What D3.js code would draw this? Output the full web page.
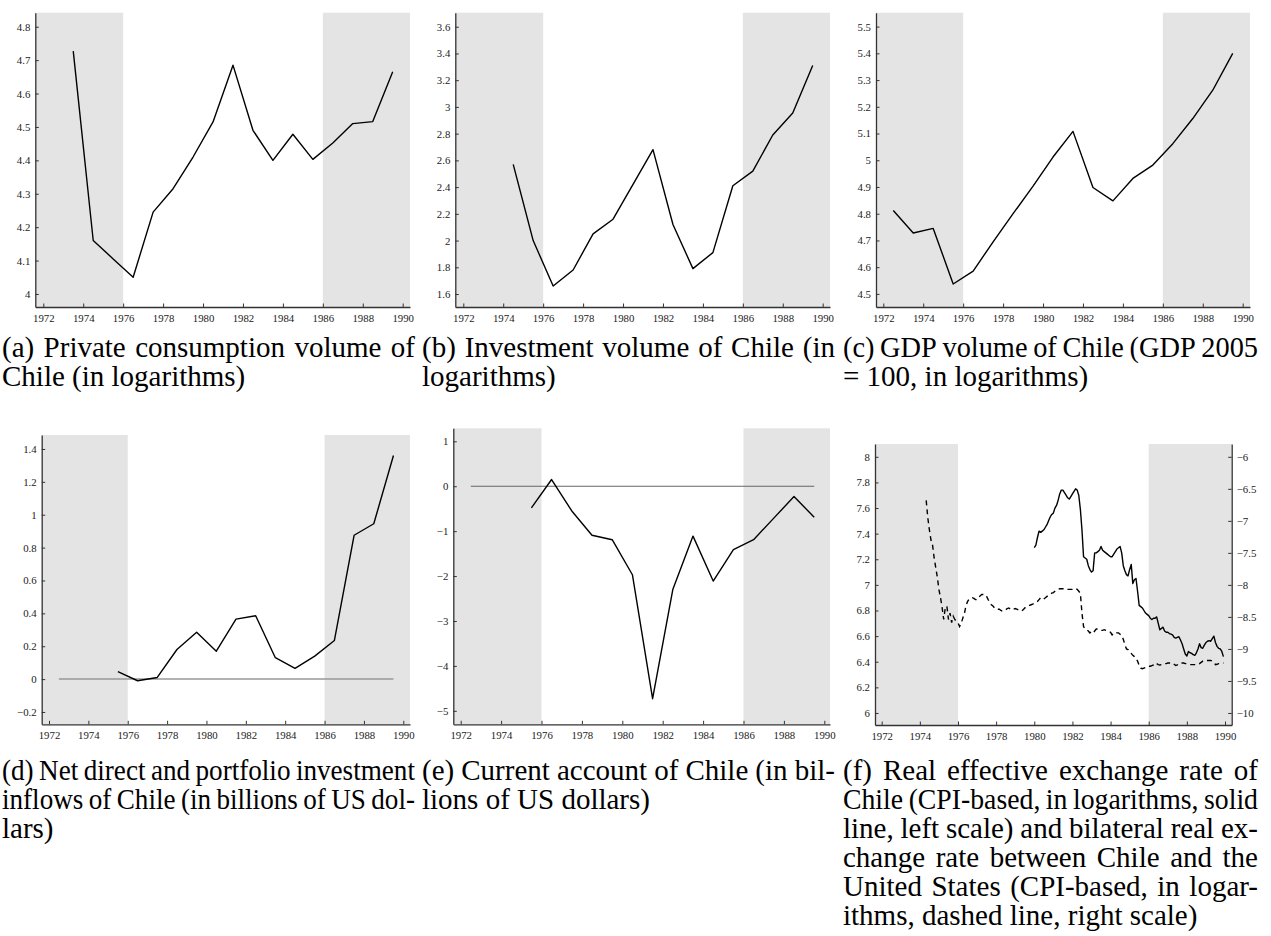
<!DOCTYPE html>
<html><head><meta charset="utf-8">
<script src="https://cdn.jsdelivr.net/npm/d3@7"></script>
<style>
body{margin:0;background:#fff;width:1271px;height:936px;overflow:hidden;position:relative;font-family:"Liberation Serif","Times New Roman",serif;}
svg{position:absolute;left:0;top:0;}
.capline{position:absolute;font-size:29px;line-height:29px;color:#000;display:flex;white-space:pre;transform-origin:0 0;}
.capline span{flex:none;}
.tick text{font-family:"Liberation Serif","Times New Roman",serif;font-size:10.8px;fill:#222;}
</style></head><body>
<svg id="chart" width="1271" height="936"></svg>
<script>
// ---------------- DATA ----------------
const xTickYears = [1972,1974,1976,1978,1980,1982,1984,1986,1988,1990];
const shadedPeriods = [[1960,1976],[1986,2000]];

const consumptionYears = [1973,1974,1975,1976,1977,1978,1979,1980,1981,1982,1983,1984,1985,1986,1987,1988,1989];
const consumptionValues = [4.727,4.160,4.105,4.050,4.245,4.315,4.410,4.515,4.685,4.490,4.400,4.478,4.403,4.452,4.510,4.516,4.665];
const consumptionTicks = [4,4.1,4.2,4.3,4.4,4.5,4.6,4.7,4.8];

const investmentYears = [1974,1975,1976,1977,1978,1979,1980,1981,1982,1983,1984,1985,1986,1987,1988,1989];
const investmentValues = [2.57,2.00,1.66,1.78,2.05,2.16,2.42,2.68,2.12,1.79,1.91,2.41,2.52,2.79,2.955,3.31];
const investmentTicks = [1.6,1.8,2,2.2,2.4,2.6,2.8,3,3.2,3.4,3.6];

const gdpYears = [1972,1973,1974,1975,1976,1977,1978,1979,1980,1981,1982,1983,1984,1985,1986,1987,1988,1989];
const gdpValues = [4.812,4.728,4.745,4.537,4.585,4.695,4.800,4.903,5.012,5.108,4.898,4.848,4.932,4.982,5.062,5.156,5.262,5.400];
const gdpTicks = [4.5,4.6,4.7,4.8,4.9,5,5.1,5.2,5.3,5.4,5.5];

const inflowYears = [1975,1976,1977,1978,1979,1980,1981,1982,1983,1984,1985,1986,1987,1988,1989];
const inflowValues = [0.045,-0.010,0.010,0.180,0.285,0.170,0.365,0.385,0.130,0.065,0.140,0.235,0.875,0.945,1.360];
const inflowTicks = [-0.2,0,0.2,0.4,0.6,0.8,1,1.2,1.4];

const currentAccountYears = [1975,1976,1977,1978,1979,1980,1981,1982,1983,1984,1985,1986,1987,1988,1989];
const currentAccountValues = [-0.48,0.15,-0.55,-1.09,-1.19,-1.97,-4.73,-2.30,-1.11,-2.11,-1.41,-1.19,-0.71,-0.23,-0.69];
const currentAccountTicks = [-5,-4,-3,-2,-1,0,1];

// real effective exchange rate, monthly, Jan 1980 - Dec 1989 (left scale)
const reerStart = 1980;
const reerMonthly = [
 7.29,7.31,7.37,7.42,7.41,7.42,7.43,7.45,7.47,7.50,7.53,7.55,
 7.56,7.60,7.62,7.66,7.71,7.74,7.74,7.72,7.70,7.68,7.67,7.69,
 7.71,7.73,7.75,7.74,7.70,7.59,7.43,7.22,7.21,7.20,7.15,7.12,
 7.10,7.11,7.25,7.25,7.26,7.27,7.30,7.27,7.26,7.25,7.24,7.23,
 7.22,7.22,7.24,7.26,7.28,7.29,7.30,7.25,7.15,7.11,7.08,7.07,
 7.12,7.16,7.01,7.04,7.05,6.95,6.84,6.83,6.82,6.80,6.78,6.77,
 6.76,6.74,6.73,6.74,6.74,6.75,6.70,6.65,6.66,6.67,6.64,6.63,
 6.63,6.62,6.615,6.61,6.59,6.585,6.59,6.595,6.57,6.54,6.50,6.46,
 6.445,6.48,6.47,6.465,6.455,6.45,6.47,6.50,6.54,6.51,6.505,6.53,
 6.55,6.56,6.565,6.56,6.58,6.60,6.55,6.52,6.505,6.50,6.48,6.44];
const reerTicks = [6,6.2,6.4,6.6,6.8,7,7.2,7.4,7.6,7.8,8];

// bilateral real exchange rate Chile-US, monthly, May 1974 - Dec 1989 (right scale)
const bilateralStart = 1974 + 4/12;
const bilateralMonthly = [
 -6.68,-6.95,-7.14,-7.30,-7.38,-7.58,-7.73,-7.88,
 -8.07,-8.20,-8.35,-8.54,-8.36,-8.33,-8.54,-8.44,-8.59,-8.49,-8.54,-8.57,
 -8.59,-8.65,-8.60,-8.52,-8.45,-8.33,-8.26,-8.22,-8.21,-8.20,-8.21,-8.23,
 -8.23,-8.20,-8.17,-8.15,-8.15,-8.15,-8.18,-8.23,-8.27,-8.31,-8.33,-8.36,
 -8.36,-8.38,-8.38,-8.40,-8.41,-8.40,-8.39,-8.37,-8.36,-8.38,-8.39,-8.38,
 -8.37,-8.38,-8.39,-8.40,-8.41,-8.39,-8.36,-8.35,-8.33,-8.32,-8.31,-8.30,
 -8.29,-8.28,-8.26,-8.23,-8.20,-8.22,-8.22,-8.20,-8.18,-8.16,-8.14,-8.13,
 -8.12,-8.10,-8.08,-8.07,-8.06,-8.06,-8.06,-8.06,-8.07,-8.07,-8.07,-8.07,
 -8.07,-8.06,-8.06,-8.07,-8.10,-8.13,-8.44,-8.65,-8.69,-8.70,-8.72,-8.75,
 -8.73,-8.75,-8.72,-8.69,-8.69,-8.70,-8.71,-8.71,-8.70,-8.71,-8.72,-8.73,
 -8.74,-8.78,-8.76,-8.74,-8.75,-8.75,-8.77,-8.79,-8.85,-8.93,-9.00,-9.01,
 -9.04,-9.07,-9.10,-9.12,-9.15,-9.19,-9.26,-9.30,-9.31,-9.30,-9.29,-9.28,
 -9.27,-9.27,-9.26,-9.25,-9.22,-9.23,-9.245,-9.25,-9.245,-9.24,-9.23,-9.23,
 -9.22,-9.22,-9.22,-9.22,-9.24,-9.26,-9.25,-9.23,-9.22,-9.22,-9.22,-9.23,
 -9.23,-9.24,-9.245,-9.245,-9.245,-9.245,-9.245,-9.24,-9.23,-9.21,-9.19,-9.18,
 -9.18,-9.18,-9.18,-9.18,-9.19,-9.21,-9.245,-9.24,-9.23,-9.23,-9.22,-9.22];
const bilateralTicks = [-10,-9.5,-9,-8.5,-8,-7.5,-7,-6.5,-6];

const captions = [
 {x:2,   y:332.5, w:413, lines:["(a) Private consumption volume of","Chile (in logarithms)"]},
 {x:422, y:332.5, w:413, lines:["(b) Investment volume of Chile (in","logarithms)"]},
 {x:843, y:332.5, w:415, lines:["(c) GDP volume of Chile (GDP 2005","= 100, in logarithms)"]},
 {x:2,   y:756, w:413, lines:["(d) Net direct and portfolio investment","inflows of Chile (in billions of US dol-","lars)"]},
 {x:422, y:756, w:413, lines:["(e) Current account of Chile (in bil-","lions of US dollars)"]},
 {x:843, y:756, w:415, lines:["(f) Real effective exchange rate of","Chile (CPI-based, in logarithms, solid","line, left scale) and bilateral real ex-","change rate between Chile and the","United States (CPI-based, in logar-","ithms, dashed line, right scale)"]}
];

// ---------------- DRAWING ----------------
const svg = d3.select("#chart");
const fmt = d3.format("~g");
const serif = '"Liberation Serif","Times New Roman",serif';

function annual(years, vals){ return years.map((yr,i)=>({t:yr+0.5, v:vals[i]})); }
function monthly(start, vals){ return vals.map((v,i)=>({t:start+i/12, v:v})); }

function styleAxis(a){
  a.attr("font-family",serif).attr("font-size",10.8);
  a.select(".domain").attr("stroke","#333").attr("stroke-width",1.3);
  a.selectAll(".tick line").attr("stroke","#333").attr("stroke-width",1);
  a.selectAll(".tick text").attr("fill","#222");
}

function panel(o){
  const g = svg.append("g");
  const x0 = d3.scaleLinear().domain([1972,1990]).range([o.x72,o.x90]);
  const x = d3.scaleLinear().domain([x0.invert(o.left), x0.invert(o.right)]).range([o.left,o.right]);
  const y = d3.scaleLinear().domain(o.yDomain).range([o.bottom,o.top]);
  const [d0,d1] = x.domain();
  shadedPeriods.forEach(([a,b])=>{
    const a1=Math.max(a,d0), b1=Math.min(b,d1);
    g.append("rect").attr("x",x(a1)).attr("y",o.top).attr("width",x(b1)-x(a1)).attr("height",o.bottom-o.top).attr("fill","#e4e4e4");
  });
  if(o.zeroLine){
    g.append("line").attr("x1",x(1972.5)).attr("x2",x(1989.5)).attr("y1",y(0)).attr("y2",y(0))
     .attr("stroke",o.zeroColor||"#888").attr("stroke-width",o.zeroWidth||1.3);
  }
  const line = d3.line().x(d=>x(d.t)).y(d=>y(d.v));
  g.append("path").datum(o.data).attr("d",line).attr("fill","none").attr("stroke","#000").attr("stroke-width",1.4).attr("stroke-linejoin","round");
  if(o.data2){
    const y2 = d3.scaleLinear().domain(o.y2Domain).range([o.bottom,o.top]);
    const line2 = d3.line().x(d=>x(d.t)).y(d=>y2(d.v));
    g.append("path").datum(o.data2).attr("d",line2).attr("fill","none").attr("stroke","#000").attr("stroke-width",1.4).attr("stroke-dasharray","5,4");
    const ay2 = g.append("g").attr("transform",`translate(${o.right},0)`)
      .call(d3.axisRight(y2).tickValues(o.y2Ticks).tickFormat(fmt).tickSize(-3.5).tickSizeOuter(0).tickPadding(5));
    styleAxis(ay2);
  }
  const ax = g.append("g").attr("transform",`translate(0,${o.bottom})`)
    .call(d3.axisBottom(x).tickValues(xTickYears).tickFormat(d3.format("d")).tickSize(-3.5).tickSizeOuter(0).tickPadding(7));
  const ay = g.append("g").attr("transform",`translate(${o.left},0)`)
    .call(d3.axisLeft(y).tickValues(o.yTicks).tickFormat(fmt).tickSize(-3.5).tickSizeOuter(0).tickPadding(5));
  styleAxis(ax); styleAxis(ay);
}

panel({left:35.3,right:410,x72:43.3,x90:402.7,top:12.7,bottom:307,yDomain:[3.961,4.842],yTicks:consumptionTicks,data:annual(consumptionYears,consumptionValues)});
panel({left:455.3,right:830,x72:463.3,x90:822.7,top:12.7,bottom:307,yDomain:[1.503,3.705],yTicks:investmentTicks,data:annual(investmentYears,investmentValues)});
panel({left:876,right:1250,x72:883.3,x90:1242.7,top:12.7,bottom:307,yDomain:[4.451,5.552],yTicks:gdpTicks,data:annual(gdpYears,gdpValues)});
panel({left:41.7,right:410,x72:49,x90:403.3,top:435,bottom:724.3,yDomain:[-0.275,1.485],yTicks:inflowTicks,data:annual(inflowYears,inflowValues),zeroLine:true,zeroColor:"#999",zeroWidth:1.5});
panel({left:453.3,right:830,x72:460.7,x90:824.3,top:428.3,bottom:724.3,yDomain:[-5.3,1.29],yTicks:currentAccountTicks,data:annual(currentAccountYears,currentAccountValues),zeroLine:true,zeroColor:"#666",zeroWidth:1.1});
panel({left:875,right:1231.7,x72:881.7,x90:1225,top:444,bottom:725,yDomain:[5.906,8.10],yTicks:reerTicks,data:monthly(reerStart,reerMonthly),
       data2:monthly(bilateralStart,bilateralMonthly),y2Domain:[-10.188,-5.8],y2Ticks:bilateralTicks});

// captions (justified lines, squeezed horizontally if wider than the column)
captions.forEach(c=>{
  c.lines.forEach((ln,i)=>{
    const last = i===c.lines.length-1;
    const div = d3.select("body").append("div").attr("class","capline")
      .style("left",c.x+"px").style("top",(c.y+i*29)+"px");
    if(!last){
      div.style("width",c.w+"px").style("justify-content","space-between");
      ln.split(" ").forEach(w=>div.append("span").text(w));
      const spans = div.selectAll("span").nodes();
      const need = d3.sum(spans, s=>s.getBoundingClientRect().width) + (spans.length-1)*0.2*29;
      if(need > c.w){
        div.style("width",need+"px").style("transform",`scaleX(${c.w/need})`);
      }
    } else {
      div.text(ln);
    }
  });
});
</script>
</body></html>
